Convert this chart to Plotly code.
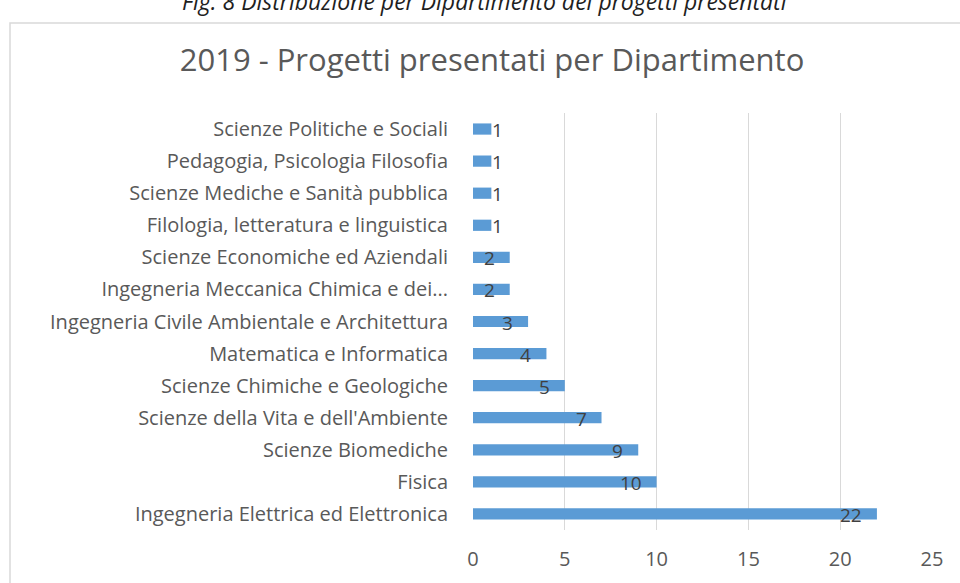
import plotly.graph_objects as go

# data, bottom row first (plotly draws the first category at the bottom)
departments = [
    "Ingegneria Elettrica ed Elettronica",
    "Fisica",
    "Scienze Biomediche",
    "Scienze della Vita e dell'Ambiente",
    "Scienze Chimiche e Geologiche",
    "Matematica e Informatica",
    "Ingegneria Civile Ambientale e Architettura",
    "Ingegneria Meccanica Chimica e dei...",
    "Scienze Economiche ed Aziendali",
    "Filologia, letteratura e linguistica",
    "Scienze Mediche e Sanità pubblica",
    "Pedagogia, Psicologia Filosofia",
    "Scienze Politiche e Sociali",
]
projects = [22, 10, 9, 7, 5, 4, 3, 2, 2, 1, 1, 1, 1]
x_ticks = [0, 5, 10, 15, 20, 25]

FONT = "Open Sans"
GREY = "#595959"

# plot area in page pixels, used to place things outside it
L, R, T, B = 473, 932, 113, 530


def px(x):
    return (x - L) / (R - L)


def py(y):
    return (B - y) / (B - T)


fig = go.Figure(go.Bar(
    y=departments,
    x=projects,
    orientation="h",
    width=0.35,
    marker=dict(color="#5B9BD5", line=dict(width=0)),
    hoverinfo="skip",
))

# data labels: "inside end" like Excel, outside when the bar is too short
for dep, val in zip(departments, projects):
    short = val < 2
    fig.add_annotation(
        x=val, y=dep, xref="x", yref="y",
        text=str(val),
        showarrow=False,
        xanchor="left" if short else "right",
        xshift=-1 if short else -13,
        yshift=-1,
        font=dict(family=FONT, size=19, color="#404040"),
    )

fig.update_layout(
    width=960,
    height=583,
    margin=dict(l=L, r=960 - R, t=T, b=583 - B),
    paper_bgcolor="white",
    plot_bgcolor="white",
    showlegend=False,
    font=dict(family=FONT, color=GREY),
    title=dict(
        text="2019 - Progetti presentati per Dipartimento",
        x=492 / 960, xref="container", xanchor="center",
        y=1 - 60 / 583, yref="container", yanchor="middle",
        font=dict(family=FONT, size=31, color=GREY),
    ),
    xaxis=dict(
        range=[0, 25],
        tickvals=x_ticks,
        showgrid=True,
        gridcolor="#D9D9D9",
        gridwidth=1,
        zeroline=False,
        showline=False,
        ticks="",
        ticklabelstandoff=15,
        tickfont=dict(family=FONT, size=20, color=GREY),
    ),
    yaxis=dict(
        type="category",
        range=[-0.5, len(departments) - 0.5],
        showgrid=False,
        zeroline=False,
        showline=False,
        ticks="",
        ticklabelstandoff=24,
        tickfont=dict(family=FONT, size=20, color=GREY),
    ),
)

# chart border (cropped on the right and bottom in the original)
fig.add_shape(
    type="rect", xref="paper", yref="paper",
    x0=px(10), x1=px(990),
    y0=py(600), y1=py(23),
    line=dict(color="#D9D9D9", width=1.5),
    fillcolor="rgba(0,0,0,0)",
    layer="below",
)

# figure caption above the chart, partly cut off at the top
fig.add_annotation(
    text="<i>Fig. 8 Distribuzione per Dipartimento dei progetti presentati</i>",
    xref="paper", yref="paper",
    x=px(485), y=py(1),
    xanchor="center", yanchor="middle",
    showarrow=False,
    font=dict(family=FONT, size=23, color="#1F1F1F"),
)

# drop the default 8px body margin so the figure sits at the page corner
fig.write_html(
    "out.html",
    config={"displayModeBar": False},
    post_script="document.body.style.margin = '0';",
)
